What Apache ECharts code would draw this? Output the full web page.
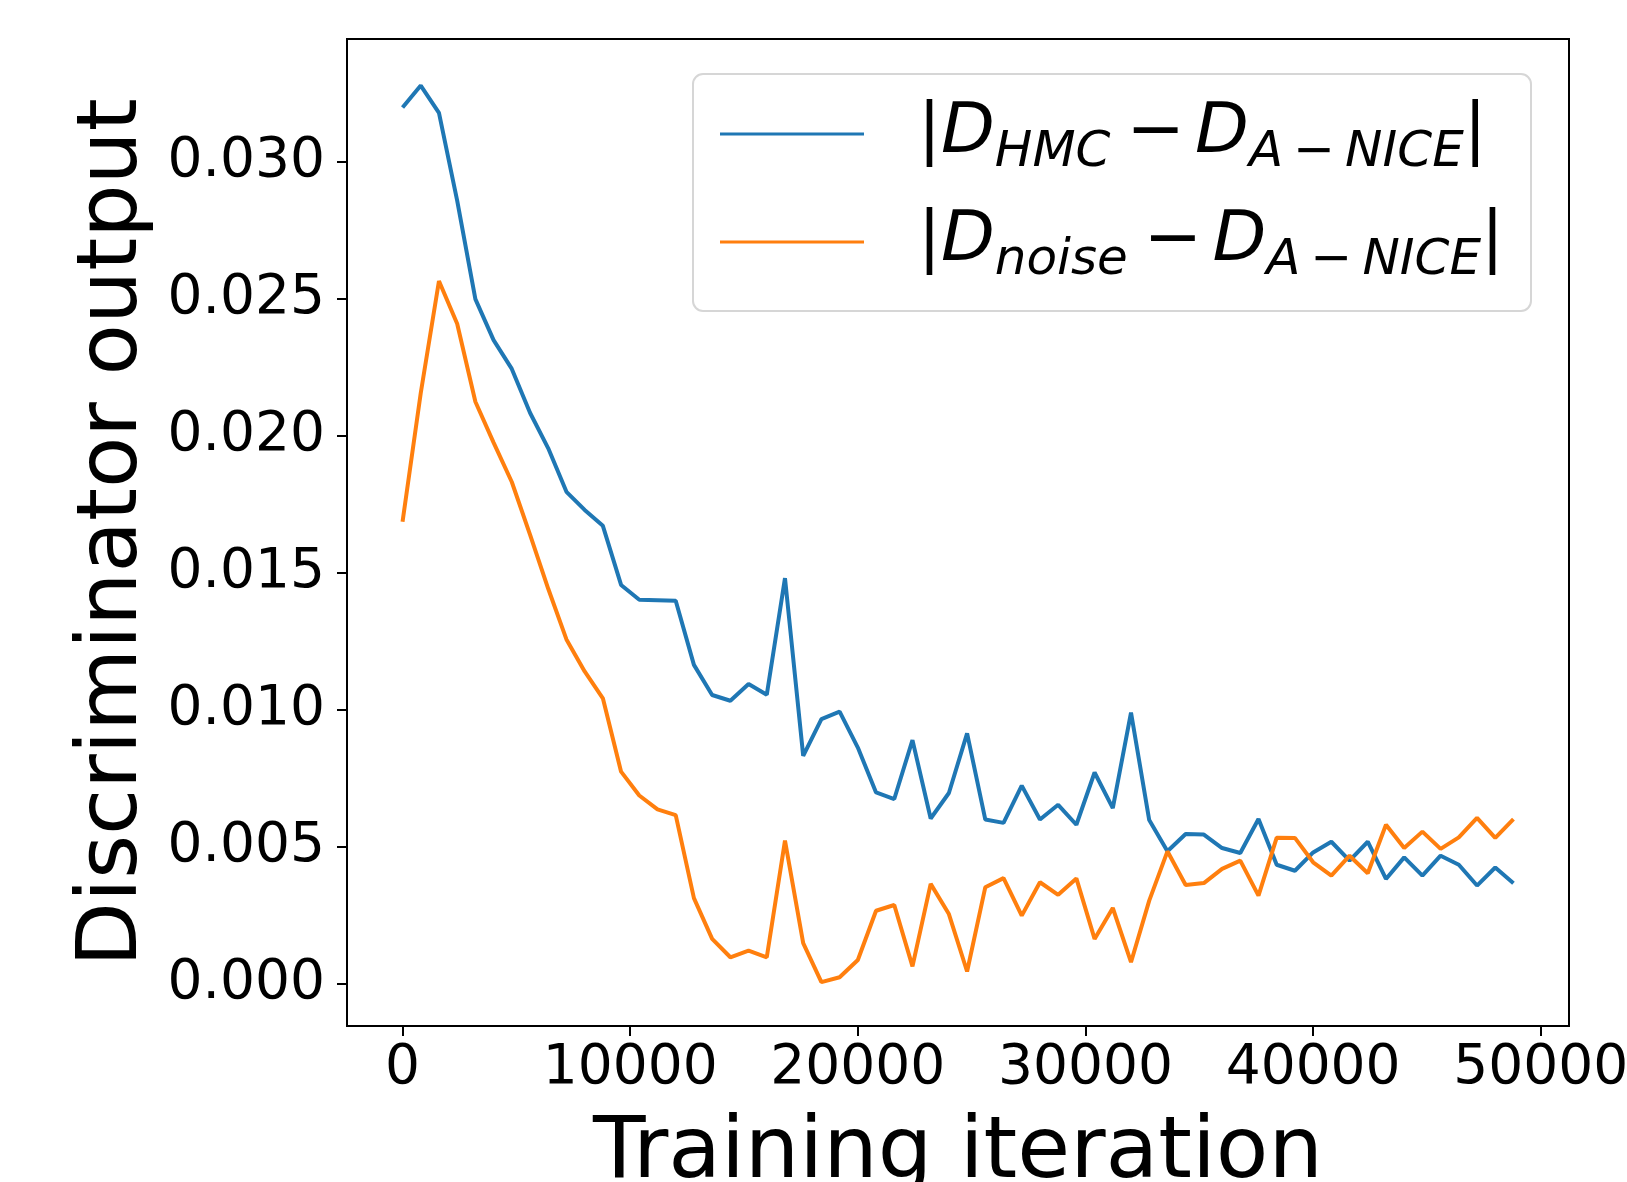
<!DOCTYPE html>
<html>
<head>
<meta charset="utf-8">
<script src="https://cdn.jsdelivr.net/npm/echarts@6/dist/echarts.min.js"></script>
<style>
  html, body { margin: 0; padding: 0; background: #fff; }
  #chart { width: 1627px; height: 1182px; }
</style>
</head>
<body>
<div id="chart"></div>
<script>
// training iterations (x) for each logged point
const iterations = [
  0, 800, 1600, 2400, 3200, 4000, 4800, 5600, 6400, 7200,
  8000, 8800, 9600, 10400, 11200, 12000, 12800, 13600, 14400, 15200,
  16000, 16800, 17600, 18400, 19200, 20000, 20800, 21600, 22400, 23200,
  24000, 24800, 25600, 26400, 27200, 28000, 28800, 29600, 30400, 31200,
  32000, 32800, 33600, 34400, 35200, 36000, 36800, 37600, 38400, 39200,
  40000, 40800, 41600, 42400, 43200, 44000, 44800, 45600, 46400, 47200,
  48000, 48800
]

// |D_HMC - D_A-NICE|
const hmcDiff = [
  0.0320, 0.0328, 0.0318, 0.0286, 0.0250, 0.0235, 0.02245, 0.02085, 0.01955, 0.01796,
  0.01730, 0.01672, 0.01456, 0.01402, 0.01400, 0.01398, 0.01164, 0.01054, 0.01033, 0.01094,
  0.01055, 0.01481, 0.00832, 0.00966, 0.00993, 0.00862, 0.00698, 0.00674, 0.00889, 0.00603,
  0.00696, 0.00914, 0.00599, 0.00587, 0.00723, 0.00599, 0.00653, 0.00580, 0.00771, 0.00641,
  0.00990, 0.00597, 0.00483, 0.00546, 0.00544, 0.00495, 0.00477, 0.00601, 0.00434, 0.00412,
  0.00479, 0.00518, 0.00449, 0.00518, 0.00382, 0.00461, 0.00394, 0.00467, 0.00434, 0.00358,
  0.00424, 0.00366
]

// |D_noise - D_A-NICE|
const noiseDiff = [
  0.01687, 0.02157, 0.02566, 0.02410, 0.02125, 0.01976, 0.01832, 0.01640, 0.01442, 0.01257,
  0.01140, 0.01042, 0.00774, 0.00687, 0.00636, 0.00615, 0.00312, 0.00163, 0.00096, 0.00120,
  0.00096, 0.00522, 0.00148, 0.00005, 0.00023, 0.00086, 0.00266, 0.00287, 0.00063, 0.00364,
  0.00254, 0.00044, 0.00352, 0.00385, 0.00248, 0.00370, 0.00324, 0.00384, 0.00163, 0.00276,
  0.00078, 0.00303, 0.00483, 0.00360, 0.00367, 0.00419, 0.00449, 0.00321, 0.00533, 0.00532,
  0.00443, 0.00394, 0.00467, 0.00403, 0.00580, 0.00495, 0.00555, 0.00492, 0.00534, 0.00605,
  0.00532, 0.00601
]

const xTicks = [0, 10000, 20000, 30000, 40000, 50000]
const yTicks = [0, 0.005, 0.010, 0.015, 0.020, 0.025, 0.030]

const seriesNames = ['hmc', 'noise']
const legendLabels = {
  hmc: '{bar||}{d|D}{sub|HMC}{op|−}{d|D}{sub|A\u2009−\u2009NICE}{end||}',
  noise: '{bar||}{d|D}{sub|noise}{op|−}{d|D}{sub|A\u2009−\u2009NICE}{end||}'
}

const FONT = 'DejaVu Sans'

const chart = echarts.init(document.getElementById('chart'))

const pairs = vals => iterations.map((x, i) => [x, vals[i]])

// rich text pieces for the math-style legend labels
const tok = (size, italic, pad) => ({
  fontSize: size,
  fontStyle: italic ? 'italic' : 'normal',
  fontFamily: FONT,
  color: '#000',
  lineHeight: 70,
  verticalAlign: 'top',
  padding: pad
})

const option = {
  backgroundColor: '#fff',
  animation: false,
  grid: {
    left: 347,
    right: 58,
    top: 39,
    bottom: 156,
    outerBoundsMode: 'none',
    containLabel: false,
    show: true,
    borderColor: '#000',
    borderWidth: 2,
    backgroundColor: 'transparent'
  },
  xAxis: {
    type: 'value',
    min: -2440,
    max: 51240,
    name: 'Training iteration',
    nameLocation: 'middle',
    nameGap: 86,
    nameTextStyle: { color: '#000', fontSize: 86, fontFamily: FONT },
    axisLine: { show: true, onZero: false, lineStyle: { color: '#000', width: 2 } },
    axisTick: { show: true, inside: false, length: 10, lineStyle: { color: '#000', width: 2 }, customValues: xTicks },
    axisLabel: {
      color: '#000', fontSize: 55, fontFamily: FONT, margin: 15, customValues: xTicks,
      formatter: v => String(v)
    },
    splitLine: { show: false }
  },
  yAxis: {
    type: 'value',
    min: -0.00155,
    max: 0.0345,
    name: 'Discriminator output',
    nameLocation: 'middle',
    nameRotate: 90,
    nameGap: 190,
    nameTextStyle: { color: '#000', fontSize: 84, fontFamily: FONT },
    axisLine: { show: true, onZero: false, lineStyle: { color: '#000', width: 2 } },
    axisTick: { show: true, inside: false, length: 10, lineStyle: { color: '#000', width: 2 }, customValues: yTicks },
    axisLabel: {
      color: '#000', fontSize: 55, fontFamily: FONT, margin: 22, customValues: yTicks,
      formatter: v => v.toFixed(3)
    },
    splitLine: { show: false }
  },
  legend: {
    data: seriesNames,
    orient: 'vertical',
    left: 693,
    top: 74,
    padding: [25, 27, 25, 27],
    icon: 'rect',
    itemWidth: 144,
    itemHeight: 3,
    itemGap: 29,
    backgroundColor: 'rgba(255,255,255,0.8)',
    borderColor: '#d6d6d6',
    borderWidth: 2,
    borderRadius: 10,
    formatter: name => legendLabels[name],
    textStyle: {
      color: '#000',
      fontFamily: FONT,
      rich: {
        bar: tok(68, false, [0, 0, 0, 49]),
        end: tok(68, false, [0, 0, 0, 0]),
        d: tok(70, true, [0, 0, 0, 0]),
        sub: tok(50, true, [29, 0, 0, 0]),
        op: tok(70, false, [0, 10, 0, 16])
      }
    }
  },
  series: [
    {
      name: 'hmc',
      type: 'line',
      data: pairs(hmcDiff),
      symbol: 'none',
      lineStyle: { color: '#1f77b4', width: 4 },
      itemStyle: { color: '#1f77b4' }
    },
    {
      name: 'noise',
      type: 'line',
      data: pairs(noiseDiff),
      symbol: 'none',
      lineStyle: { color: '#ff7f0e', width: 4 },
      itemStyle: { color: '#ff7f0e' }
    }
  ]
}

chart.setOption(option)
</script>
</body>
</html>
